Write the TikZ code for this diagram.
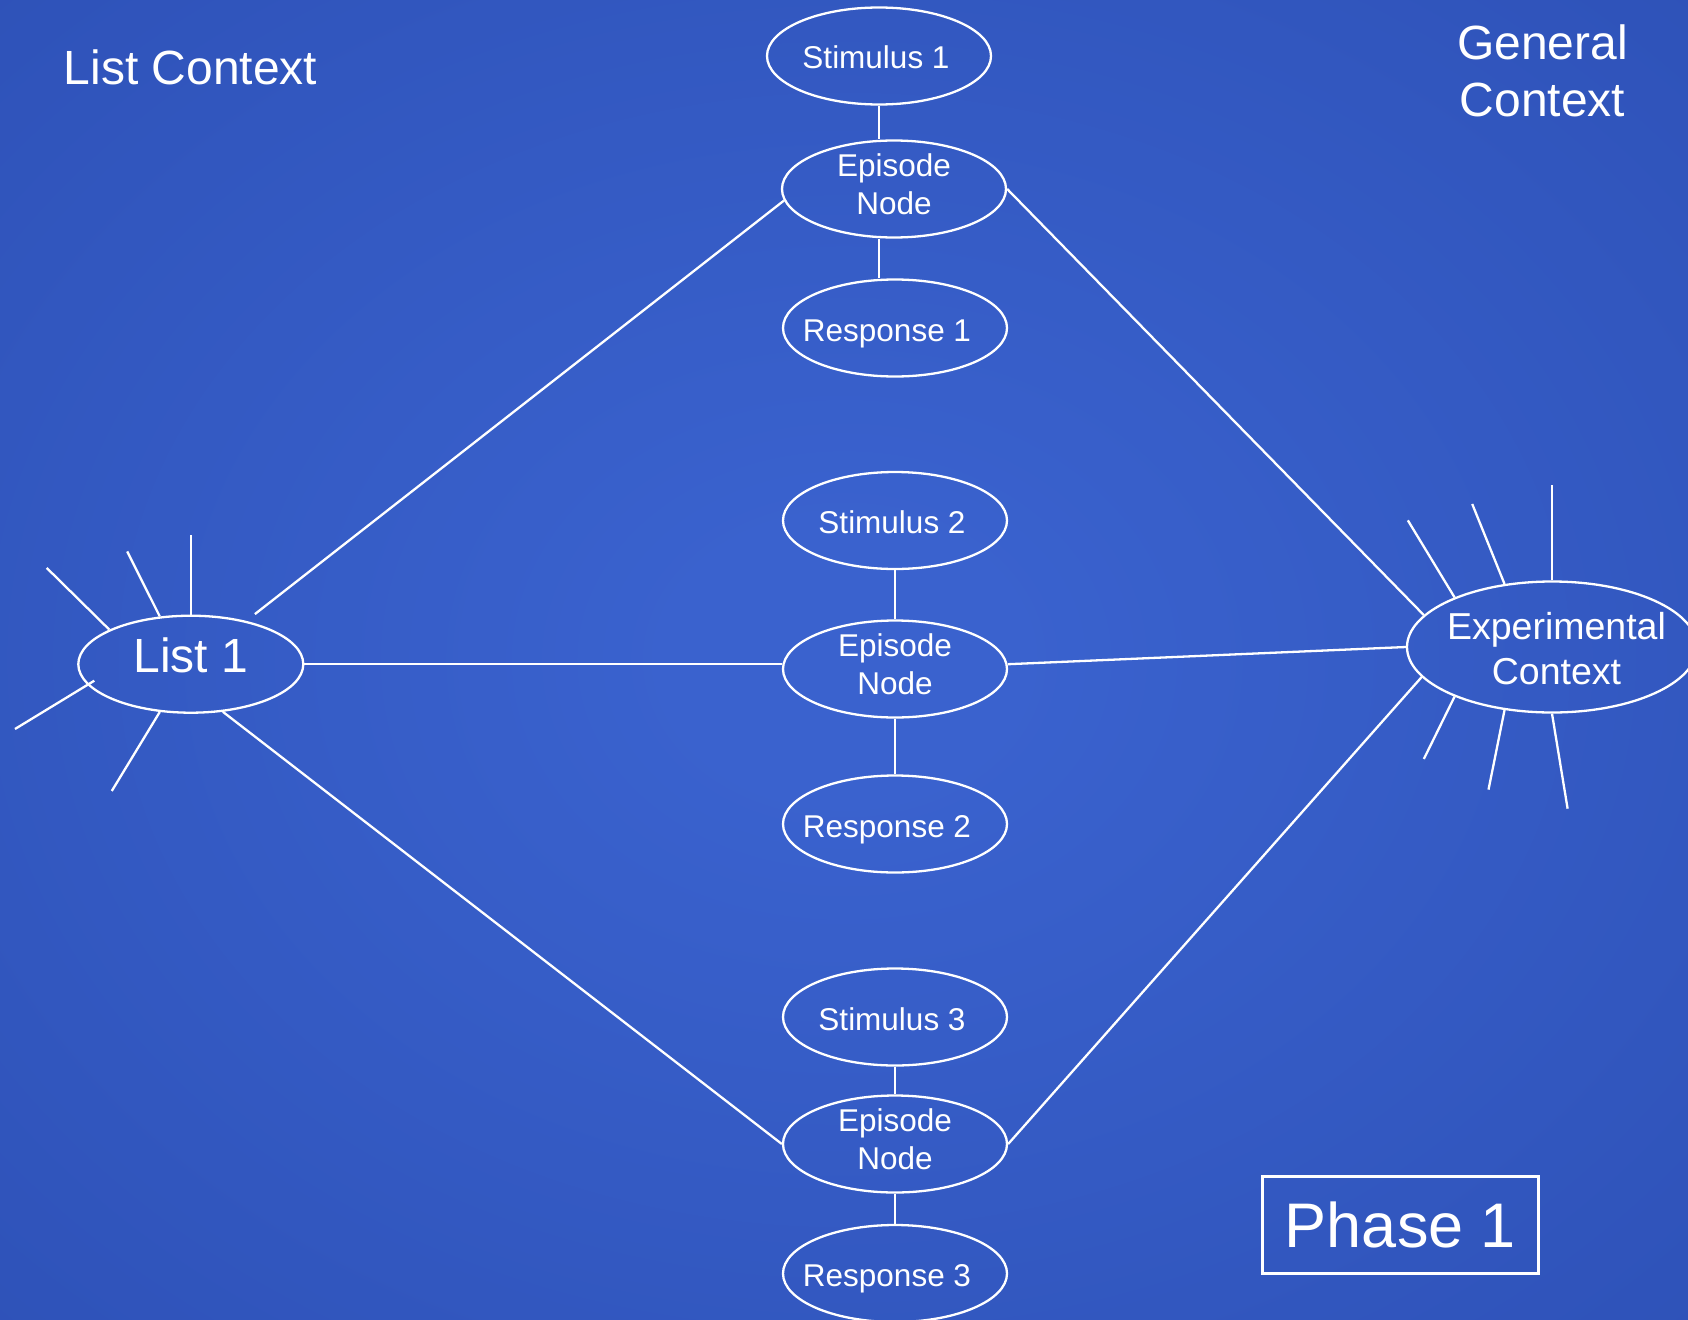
\documentclass[tikz,border=0pt]{standalone}
\usepackage{fontspec}
\setmainfont{Liberation Sans}
\usetikzlibrary{shapes.geometric,calc}
\definecolor{bgin}{RGB}{58,98,206}
\definecolor{bgout}{RGB}{33,64,160}
\pgfdeclareradialshading{bgrad}{\pgfpoint{0bp}{0bp}}{color(0bp)=(bgin); color(5bp)=(bgin); color(71bp)=(bgout)}
\begin{document}
\begin{tikzpicture}[x=1pt,y=-1pt,
  link/.style={draw=white, line width=2.3pt},
  oval/.style={ellipse, draw=white, line width=2.3pt, inner sep=0pt, minimum width=224pt, minimum height=97pt},
  lbl/.style={text=white, inner sep=0pt, font=\fontsize{31.5}{38}\selectfont, align=center},
  one/.style={text height=26pt, text depth=0pt},
  two/.style={yshift=4.5pt},
  big/.style={text=white, inner sep=0pt, font=\fontsize{48}{57}\selectfont, align=center}]
\useasboundingbox (0,0) rectangle (1688,1319);
\shade[shading=bgrad] (0,0) rectangle (1688,1319);

% episode column
\node[oval, label={[lbl,one,xshift=-3pt]center:Stimulus 1}] (s1) at (879,56) {};
\node[oval, label={[lbl,two]center:{Episode\\Node}}] (e1) at (894,189) {};
\node[oval, label={[lbl,one,xshift=-8pt]center:Response 1}] (r1) at (895,328) {};
\node[oval, label={[lbl,one,xshift=-3pt]center:Stimulus 2}] (s2) at (895,520.5) {};
\node[oval, label={[lbl,two]center:{Episode\\Node}}] (e2) at (895,669) {};
\node[oval, label={[lbl,one,xshift=-8pt]center:Response 2}] (r2) at (895,824) {};
\node[oval, label={[lbl,one,xshift=-3pt]center:Stimulus 3}] (s3) at (895,1017) {};
\node[oval, label={[lbl,two]center:{Episode\\Node}}] (e3) at (895,1144) {};
\node[oval, label={[lbl,one,xshift=-8pt]center:Response 3}] (r3) at (895,1273.5) {};

% contexts
\node[oval, minimum width=225pt, minimum height=97pt,
  label={[big, text height=34pt, text depth=17.6pt]center:List 1}] (l1) at (190.8,664.2) {};
\node[oval, minimum width=290pt, minimum height=131pt,
  label={[lbl, font=\fontsize{37.5}{45}\selectfont, xshift=4.5pt, yshift=-1.5pt]center:{Experimental\\Context}}] (ex) at (1552,647) {};

% titles
\node[big] (lc) at (190.5,67) {List Context};
\node[big] (gc) at (1542.6,70.5) {General\\Context};
\node[draw=white, line width=2.3pt, text=white, font=\fontsize{63}{70}\selectfont,
  minimum width=276pt, minimum height=97pt, inner sep=0pt, text height=45pt, text depth=0pt] (ph) at (1400.5,1225) {Phase 1};

% vertical links
\draw[link] (s1.south) -- (s1.south |- e1.north);
\draw[link] (e1.south -| s1.south) -- (r1.north -| s1.south);
\draw[link] (s2) -- (e2);
\draw[link] (e2) -- (r2);
\draw[link] (s3) -- (e3);
\draw[link] (e3) -- (r3);

% list links
\draw[link, shorten <=11pt] (l1) -- (e1.186);
\draw[link] (l1.east) -- (l1.east -| e2.west);
\draw[link] (l1.-56) -- (e3.west);

% experimental links
\draw[link] (e1.east) -- (ex.166.4);
\draw[link] (e2.east |- l1.east) -- (ex.west);
\draw[link] (e3.east) -- (ex.193.2);

% rays around List 1
\draw[link] (l1.north) -- ++(0,-80);
\draw[link] (l1.157.2) -- ++(-62.6,-61.7);
\draw[link] (l1.123.9) -- ++(-32.6,-65);
\draw[link] ([shift={(-96.5,16.5)}]l1.center) -- ++(-79.3,48.3);
\draw[link] (l1.237) -- ++(-48,79);

% rays around Experimental Context
\draw[link] (ex.north) -- ++(0,-95.7);
\draw[link] (ex.127.8) -- ++(-32.3,-80);
\draw[link] (ex.153.3) -- ++(-46.7,-77);
\draw[link] (ex.207.4) -- ++(-30.7,62.3);
\draw[link] (ex.233.4) -- ++(-16,79.6);
\draw[link] (ex.south) -- ++(15.6,95);
\end{tikzpicture}
\end{document}
